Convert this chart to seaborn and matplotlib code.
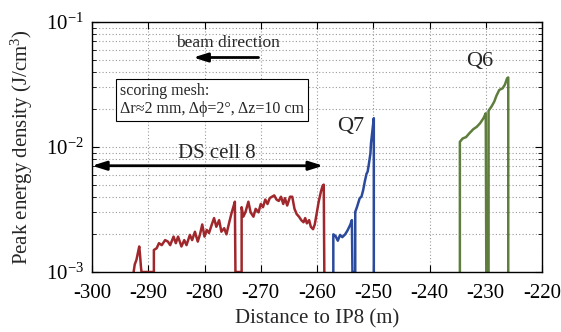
import numpy as np
import pandas as pd
import matplotlib
matplotlib.use("Agg")
import matplotlib.pyplot as plt
import seaborn as sns

# ---------------- data ----------------
BOT = 1e-3
# DS cell 8 (red)
ds_x = [-292.6, -292.4, -292.1, -291.8, -291.6, -291.45, -291.3, -291.2,
        -289.0, -289.0, -288.5, -288.1, -287.6, -287.0, -286.5, -286.1, -285.5, -285.1,
        -284.7, -284.1, -283.6, -283.2, -282.6, -282.2, -281.7, -281.2, -280.8, -280.4,
        -280.0, -279.6, -279.2, -278.7, -278.3, -277.9, -277.4, -277.0, -276.5, -276.1,
        -275.6, -275.2, -274.8, -274.6, -274.5,
        -273.4, -273.4, -273.1, -272.7, -272.2, -271.8, -271.3, -270.9, -270.4, -270.0,
        -269.6, -269.2, -268.8, -268.4, -268.0, -267.6, -267.2, -266.8, -266.4, -266.0,
        -265.7, -265.3, -264.8, -264.4, -264.0, -263.6, -263.2, -262.8, -262.4, -262.1,
        -261.8, -261.4, -261.1, -260.7, -260.4, -260.1, -259.7, -259.3, -259.0, -258.8, -258.7]
ds_y = [BOT, 1.15e-3, 1.25e-3, 1.45e-3, 1.6e-3, 1.35e-3, 1.1e-3, BOT,
        BOT, 1.5e-3, 1.55e-3, 1.7e-3, 1.64e-3, 1.8e-3, 1.75e-3, 1.64e-3, 1.92e-3, 1.7e-3,
        1.92e-3, 1.6e-3, 1.8e-3, 1.64e-3, 1.98e-3, 1.8e-3, 2.1e-3, 1.75e-3, 2.0e-3, 2.4e-3,
        1.92e-3, 2.17e-3, 2.05e-3, 2.4e-3, 2.7e-3, 2.3e-3, 2.6e-3, 2.1e-3, 2.24e-3, 2.0e-3,
        2.5e-3, 2.95e-3, 3.4e-3, 3.65e-3, BOT,
        BOT, 3.3e-3, 2.77e-3, 3.03e-3, 3.65e-3, 3.0e-3, 2.77e-3, 3.2e-3, 3.0e-3, 3.5e-3,
        3.3e-3, 3.8e-3, 3.5e-3, 3.9e-3, 4.0e-3, 4.1e-3, 3.8e-3, 3.7e-3, 4.0e-3, 3.5e-3,
        3.9e-3, 3.4e-3, 4.0e-3, 4.0e-3, 3.2e-3, 2.9e-3, 2.77e-3, 2.6e-3, 2.5e-3, 2.7e-3,
        2.45e-3, 2.6e-3, 2.3e-3, 2.2e-3, 2.4e-3, 2.86e-3, 3.65e-3, 4.4e-3, 4.9e-3, 5.0e-3, BOT]

# Q7 (blue)
q7_x = [-257.1, -257.1, -256.7, -256.3, -255.9, -255.5, -255.0, -254.6, -254.1, -253.8, -253.7,
        -253.2, -253.2, -252.9, -252.6, -252.4, -252.1, -251.8, -251.5, -251.2, -251.0,
        -250.8, -250.5, -250.4, -250.2, -249.9, -249.9]
q7_y = [BOT, 2.0e-3, 1.94e-3, 1.78e-3, 1.98e-3, 1.9e-3, 2.0e-3, 2.14e-3, 2.38e-3, 2.6e-3, BOT,
        BOT, 3.03e-3, 3.3e-3, 3.65e-3, 3.9e-3, 4.0e-3, 4.5e-3, 5.3e-3, 6.1e-3, 6.35e-3,
        7.2e-3, 8.9e-3, 1.07e-2, 1.29e-2, 1.7e-2, BOT]

# Q6 (green)
q6_x = [-234.6, -234.6, -234.1, -233.5, -232.9, -232.2, -231.6, -231.0, -230.4, -230.0, -229.9,
        -229.5, -229.5, -229.0, -228.5, -228.1, -227.6, -227.0, -226.6, -226.2, -226.0, -226.0]
q6_y = [BOT, 1.1e-2, 1.17e-2, 1.2e-2, 1.29e-2, 1.39e-2, 1.45e-2, 1.55e-2, 1.7e-2, 1.86e-2, BOT,
        BOT, 1.95e-2, 2.1e-2, 2.3e-2, 2.57e-2, 2.86e-2, 2.95e-2, 3.15e-2, 3.55e-2, 3.6e-2, BOT]

x_ticks = [-300, -290, -280, -270, -260, -250, -240, -230, -220]
y_ticks = [1e-3, 1e-2, 1e-1]
y_ticklabels = [r"10$^{-3}$", r"10$^{-2}$", r"10$^{-1}$"]

# ---------------- style ----------------
sns.set_theme(style="ticks")
plt.rcParams["font.family"] = ["Liberation Serif", "DejaVu Serif"]
plt.rcParams["mathtext.fontset"] = "custom"
plt.rcParams["mathtext.rm"] = "Liberation Serif"
plt.rcParams["mathtext.it"] = "Liberation Serif:italic"
plt.rcParams["mathtext.bf"] = "Liberation Serif:bold"

fig = plt.figure(figsize=(5.61, 3.32), dpi=100)
ax = fig.add_axes([92/561, 1-272/332, 450/561, 250/332])

colors = {"ds": "#a0282c", "q7": "#2b4a9e", "q6": "#5f7d3c"}
for xs, ys, c in [(ds_x, ds_y, colors["ds"]), (q7_x, q7_y, colors["q7"]), (q6_x, q6_y, colors["q6"])]:
    sns.lineplot(x=xs, y=ys, sort=False, estimator=None, color=c, lw=1.8, ax=ax)

ax.set_yscale("log")
ax.set_xlim(-300, -220)
ax.set_ylim(1e-3, 1e-1)
ax.set_xticks(x_ticks)
ax.set_xticklabels([str(t) for t in x_ticks])
ax.set_yticks(y_ticks)
ax.set_yticklabels(y_ticklabels)

ax.grid(True, which="major", axis="x", color="#999999", ls=(0, (1, 2)), lw=0.8)
ax.grid(True, which="both", axis="y", color="#999999", ls=(0, (1, 2)), lw=0.8)
ax.set_axisbelow(True)

ax.tick_params(which="both", direction="in", top=True, right=True, colors="black")
ax.tick_params(which="major", length=5, width=0.8, labelsize=15)
ax.tick_params(which="minor", length=3, width=0.6)
ax.tick_params(axis="x", pad=9)
ax.tick_params(axis="y", pad=6)
for s in ax.spines.values():
    s.set_color("black")
    s.set_linewidth(1.0)

ax.set_xlabel("Distance to IP8 (m)", fontsize=15, labelpad=4)
ax.set_ylabel(r"Peak energy density (J/cm$^3$)", fontsize=15, labelpad=8)

# annotations
ax.annotate("", xy=(-300, 7.08e-3), xytext=(-258.9, 7.08e-3),
            arrowprops=dict(arrowstyle="<|-|>,head_length=0.7,head_width=0.22", color="black", lw=2,
                            shrinkA=0, shrinkB=0))
ax.text(-277.8, 8.9e-3, "DS cell 8", fontsize=15, ha="center", va="center")

ax.annotate("", xy=(-282.0, 5.2e-2), xytext=(-270.4, 5.2e-2),
            arrowprops=dict(arrowstyle="-|>,head_length=0.7,head_width=0.22", color="black", lw=2,
                            shrinkA=0, shrinkB=0))
ax.text(-275.8, 6.76e-2, "beam direction", fontsize=12.5, ha="center", va="center")

ax.text(-295.0, 2.38e-2, "scoring mesh:\nΔr≈2 mm, Δϕ=2°, Δz=10 cm", fontsize=11.5,
        ha="left", va="center", linespacing=1.1,
        bbox=dict(boxstyle="square,pad=0.25", fc="white", ec="black", lw=0.8))

ax.text(-254.1, 1.47e-2, "Q7", fontsize=16, ha="center", va="center")
ax.text(-231.0, 4.8e-2, "Q6", fontsize=16, ha="center", va="center")

fig.savefig("out.png", dpi=100)
